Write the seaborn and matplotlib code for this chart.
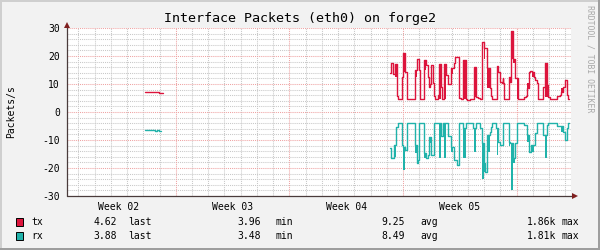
import numpy as np
import matplotlib
matplotlib.use("Agg")
import matplotlib.pyplot as plt
import seaborn as sns
from matplotlib.patches import Rectangle

# ---------------- data (days since start of week 02) ----------------
tx_early_t = [5.11, 5.99, 6.24]
tx_early_v = [7.0, 6.7, 6.7]
rx_early_t = [5.11, 5.75, 5.85, 5.99, 6.12]
rx_early_v = [-6.4, -6.7, -6.4, -6.7, -6.7]

tx_t = [20.17, 20.27, 20.41, 20.49, 20.61, 20.72, 20.93, 21.03, 21.13, 21.23,
        21.71, 21.85, 21.99, 22.06, 22.32, 22.42, 22.57, 22.63, 22.67, 22.73,
        22.84, 22.88, 22.98, 23.18, 23.23, 23.33, 23.43, 23.55, 23.64, 23.80,
        23.97, 24.15, 24.21, 24.42, 24.48, 24.58, 24.72, 24.87, 24.97, 25.14,
        25.38, 25.48, 25.65, 25.75, 25.85, 25.96, 26.06, 26.20, 26.33, 26.43,
        26.51, 26.78, 26.88, 26.98, 27.09, 27.13, 27.19, 27.23, 27.50, 27.60,
        27.66, 27.76, 27.91, 28.01, 28.11, 28.46, 28.57, 28.63, 28.77, 28.83,
        28.94, 29.04, 29.14, 29.24, 29.31, 29.65, 29.76, 29.86, 29.96, 30.06,
        30.48, 30.68, 30.74, 30.85, 30.95, 31.01, 31.09, 31.15, 31.24]
tx_v = [13.8, 17.4, 13.5, 17.0, 5.7, 4.6, 12.4, 21.0, 14.4, 4.6,
        15.0, 18.9, 15.0, 4.6, 18.6, 16.8, 12.6, 9.0, 9.9, 16.8,
        10.2, 5.8, 4.6, 6.1, 17.0, 9.0, 4.6, 17.0, 13.2, 9.9,
        15.6, 17.6, 19.8, 15.6, 5.1, 4.6, 18.6, 4.6, 4.3, 4.6,
        16.2, 5.5, 4.9, 4.6, 24.9, 22.7, 22.7, 15.6, 8.5, 5.8,
        4.6, 16.5, 14.4, 10.6, 10.2, 12.0, 10.2, 4.6, 12.6, 10.8,
        28.9, 18.9, 12.3, 12.0, 4.6, 5.5, 5.8, 8.5, 14.4, 14.6,
        14.4, 12.4, 11.4, 10.2, 4.6, 9.0, 17.6, 9.6, 5.5, 4.6,
        5.8, 6.1, 7.3, 9.0, 10.8, 11.4, 6.1, 4.6, 4.6]
# fast-varying spans (start, end, low, high)
tx_blk_t0 = [20.49, 21.03, 21.71, 22.32, 23.23, 23.55, 23.97, 24.72, 25.38, 25.96,
             26.20, 26.78, 27.50, 27.66, 27.76, 28.01, 28.63, 28.94, 29.76, 29.86, 30.74]
tx_blk_t1 = [20.61, 21.13, 21.85, 22.42, 23.33, 23.64, 24.10, 24.87, 25.48, 26.06,
             26.33, 26.88, 27.60, 27.76, 27.91, 28.11, 28.77, 29.04, 29.86, 29.96, 30.85]
tx_blk_lo = [12.6, 14.4, 12.4, 15.0, 4.6, 4.6, 13.5, 4.6, 5.5, 18.9,
             8.5, 14.4, 4.6, 18.9, 17.4, 4.6, 8.5, 12.4, 5.5, 5.5, 7.3]
tx_blk_hi = [17.0, 21.0, 15.0, 18.6, 17.0, 17.0, 15.6, 18.6, 16.2, 22.7,
             15.6, 16.5, 12.6, 28.9, 18.9, 12.0, 10.2, 14.4, 17.6, 9.6, 8.5]

rx_t = [20.17, 20.25, 20.45, 20.58, 20.72, 20.93, 20.99, 21.13, 21.23, 21.71,
        21.85, 21.95, 22.01, 22.32, 22.42, 22.57, 22.63, 22.73, 22.88, 23.23,
        23.33, 23.45, 23.55, 23.64, 23.80, 23.94, 24.15, 24.31, 24.46, 24.72,
        24.87, 25.34, 25.38, 25.48, 25.75, 25.85, 25.96, 26.06, 26.16, 26.33,
        26.43, 26.51, 26.74, 26.78, 26.88, 26.98, 27.13, 27.19, 27.50, 27.60,
        27.66, 27.76, 27.91, 28.01, 28.11, 28.46, 28.63, 28.77, 28.89, 29.04,
        29.14, 29.24, 29.65, 29.76, 29.86, 29.96, 30.48, 30.74, 30.85, 30.95,
        31.09, 31.15, 31.24]
rx_v = [-13.0, -16.5, -11.8, -5.2, -4.0, -11.8, -12.4, -13.6, -4.0, -11.8,
        -18.3, -17.1, -4.0, -14.5, -16.5, -15.4, -8.8, -15.4, -4.0, -4.0,
        -8.6, -4.0, -4.0, -4.0, -8.6, -12.4, -17.1, -18.9, -4.0, -5.8,
        -4.0, -5.8, -5.8, -4.0, -5.8, -11.2, -18.3, -21.3, -8.2, -7.0,
        -5.2, -4.0, -5.8, -5.8, -10.6, -11.8, -10.6, -4.0, -10.6, -11.2,
        -11.2, -16.4, -11.2, -4.0, -4.0, -4.6, -8.2, -14.2, -11.8, -11.8,
        -7.6, -4.0, -8.2, -8.2, -4.6, -4.0, -5.0, -5.0, -7.0, -10.0,
        -5.8, -4.0, -4.0]
rx_blk_t0 = [20.45, 20.99, 21.71, 22.32, 22.63, 23.23, 23.55, 23.94, 24.72, 25.38,
             25.85, 25.96, 26.20, 26.78, 27.50, 27.66, 27.76, 28.01, 28.63, 28.89,
             29.76, 30.74]
rx_blk_t1 = [20.57, 21.13, 21.85, 22.42, 22.73, 23.33, 23.64, 24.11, 24.87, 25.48,
             25.96, 26.06, 26.33, 26.88, 27.60, 27.76, 27.91, 28.11, 28.77, 29.04,
             29.86, 30.85]
rx_blk_lo = [-16.0, -20.7, -14.5, -16.5, -11.2, -16.5, -16.5, -14.2, -16.5, -14.2,
             -24.0, -21.3, -14.2, -15.4, -12.0, -27.9, -18.3, -6.8, -10.6, -14.2,
             -16.5, -7.0]
rx_blk_hi = [-11.8, -12.4, -11.8, -14.5, -8.8, -4.0, -4.0, -12.4, -5.8, -5.8,
             -11.2, -18.3, -8.2, -5.8, -10.6, -11.2, -16.4, -4.0, -8.2, -11.8,
             -8.2, -5.0]

week_centers = [3.5, 10.5, 17.5, 24.5]
week_labels = ["Week 02", "Week 03", "Week 04", "Week 05"]
week_bounds = [0, 7, 14, 21, 28]
days = list(range(0, 32))

legend_names = ["tx", "rx"]
legend_last = ["4.62", "3.88"]
legend_min = ["3.96", "3.48"]
legend_avg = ["9.25", "8.49"]
legend_max = ["1.86k", "1.81k"]

title = "Interface Packets (eth0) on forge2"
ylabel = "Packets/s"

TX_C = "#DC143C"
RX_C = "#20B2AA"

# ---------------- figure ----------------
sns.set_theme(style="white")
plt.rcParams["font.family"] = ["DejaVu Sans Mono"]
W, H = 600, 250
fig = plt.figure(figsize=(6, 2.5), dpi=100, facecolor="#F2F2F2")
L, R, T, B = 67, 571, 28, 196
ax = fig.add_axes([L / W, 1 - B / H, (R - L) / W, (B - T) / H])
ax.set_facecolor("white")
x0, x1 = 0.30, 31.35
ax.set_xlim(x0, x1)
ax.set_ylim(-30, 30)

# grid
dot = (0, (1, 1))
for d in days:
    if d in week_bounds:
        continue
    ax.axvline(d, color="#C8C8C8", lw=0.75, ls=dot, zorder=0)
for y in range(-28, 30, 2):
    if y % 10 == 0:
        continue
    ax.axhline(y, color="#C8C8C8", lw=0.75, ls=dot, zorder=0)
for d in week_bounds:
    ax.axvline(d, color="#EFA3A3", lw=0.75, ls=dot, zorder=0.5)
for y in range(-30, 31, 10):
    ax.axhline(y, color="#EFA3A3", lw=0.75, ls=dot, zorder=0.5)

# data
for tt, vv, c in [(tx_early_t, tx_early_v, TX_C), (tx_t, tx_v, TX_C),
                  (rx_early_t, rx_early_v, RX_C), (rx_t, rx_v, RX_C)]:
    sns.lineplot(x=tt, y=vv, ax=ax, color=c, lw=1.0, drawstyle="steps-post",
                 estimator=None, sort=False, legend=False, zorder=3)
for t0s, t1s, los, his, c in [(tx_blk_t0, tx_blk_t1, tx_blk_lo, tx_blk_hi, TX_C),
                              (rx_blk_t0, rx_blk_t1, rx_blk_lo, rx_blk_hi, RX_C)]:
    for a, b, lo, hi in zip(t0s, t1s, los, his):
        ax.fill_between([a, b], [lo, lo], [hi, hi], color=c, lw=0, zorder=3)

# axes styling
for s in ax.spines.values():
    s.set_visible(False)
ax.set_xticks(week_centers)
ax.set_xticklabels(week_labels)
ax.set_yticks(range(-30, 31, 10))
ax.set_yticklabels([str(v) for v in range(-30, 31, 10)])
ax.tick_params(axis="x", length=0, pad=4.0, labelsize=7.0, colors="black")
ax.tick_params(axis="y", length=2.2, width=0.8, pad=3.0, labelsize=7.0,
               colors="black", direction="out")
ax.tick_params(axis="y", color="#444444")
ax.set_xlabel("")
ax.set_ylabel("")

# axis lines with arrows
AX_C = "#4A3B3B"
AR_C = "#7F1F1F"
ax.plot([0, 0], [0, 1.02], transform=ax.transAxes, color=AX_C, lw=0.9,
        clip_on=False, zorder=5)
ax.plot([0, 1.008], [0, 0], transform=ax.transAxes, color=AX_C, lw=0.9,
        clip_on=False, zorder=5)
ax.plot([0], [1.02], transform=ax.transAxes, marker="^", ms=4.5, color=AR_C,
        clip_on=False, zorder=6, mew=0)
ax.plot([1.008], [0], transform=ax.transAxes, marker=">", ms=4.5, color=AR_C,
        clip_on=False, zorder=6, mew=0)

# texts
fig.text(300 / W, 1 - 18.5 / H, title, ha="center", va="center", fontsize=9.6,
         color="black")
fig.text(11 / W, 1 - 112 / H, ylabel, ha="center", va="center", rotation=90,
         fontsize=7.0, color="black")
fig.text(590 / W, 1 - 59 / H, "RRDTOOL / TOBI OETIKER", ha="center", va="center",
         rotation=270, fontsize=5.9, color="#A8A8A8")

# legend
rows_y = [222.3, 235.7]
colors = [TX_C, RX_C]
for i in range(2):
    yc = rows_y[i]
    fig.patches.append(Rectangle((15.5 / W, 1 - (yc + 4) / H), 7 / W, 8 / H,
                                 transform=fig.transFigure, facecolor=colors[i],
                                 edgecolor="black", lw=0.7))
    yf = 1 - yc / H
    kw = dict(va="center", fontsize=7.0, color="black")
    fig.text(31 / W, yf, legend_names[i], ha="left", **kw)
    fig.text(117 / W, yf, legend_last[i], ha="right", **kw)
    fig.text(128 / W, yf, "last", ha="left", **kw)
    fig.text(261 / W, yf, legend_min[i], ha="right", **kw)
    fig.text(276 / W, yf, "min", ha="left", **kw)
    fig.text(405 / W, yf, legend_avg[i], ha="right", **kw)
    fig.text(420 / W, yf, "avg", ha="left", **kw)
    fig.text(556 / W, yf, legend_max[i], ha="right", **kw)
    fig.text(562 / W, yf, "max", ha="left", **kw)

# 3D-ish frame
fig.patches.append(Rectangle((0, 0), 1, 2 / H, transform=fig.transFigure,
                             facecolor="#9E9E9E", lw=0))
fig.patches.append(Rectangle((1 - 2 / W, 0), 2 / W, 1, transform=fig.transFigure,
                             facecolor="#9E9E9E", lw=0))
fig.patches.append(Rectangle((0, 1 - 2 / H), 1 - 2 / W, 2 / H,
                             transform=fig.transFigure, facecolor="#CFCFCF", lw=0))
fig.patches.append(Rectangle((0, 2 / H), 2 / W, 1 - 4 / H,
                             transform=fig.transFigure, facecolor="#CFCFCF", lw=0))

fig.savefig("out.png", dpi=100, facecolor=fig.get_facecolor())
